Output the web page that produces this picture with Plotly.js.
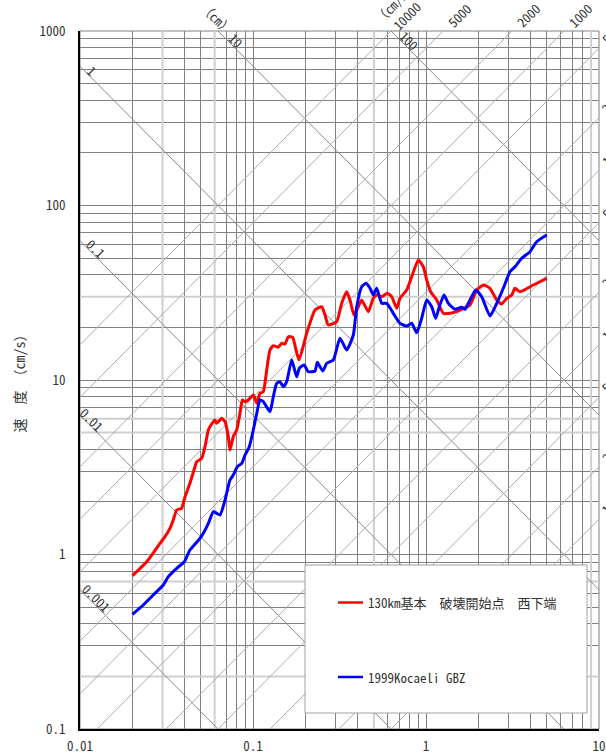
<!DOCTYPE html>
<html><head><meta charset="utf-8">
<script src="https://cdn.plot.ly/plotly-3.0.1.min.js"></script>
<style>html,body{margin:0;padding:0;background:#fff}#chart{width:606px;height:755px}</style>
</head><body><div id="chart"></div>
<script>
// ---- data (period s, pseudo velocity cm/s) ----
const redName = '130km基本　破壊開始点　西下端';
const redPeriod = [0.0201,0.0243,0.0290,0.0310,0.0331,0.0346,0.0362,0.0387,0.0395,0.0405,
 0.0432,0.0462,0.0473,0.0505,0.0528,0.0552,0.0577,0.0603,0.0617,0.0659,
 0.0689,0.0720,0.0736,0.0769,0.0805,0.0841,0.0868,0.0899,0.0940,0.1004,
 0.1051,0.1098,0.1147,0.1200,0.1254,0.1310,0.1400,0.1465,0.1531,0.1600,
 0.1696,0.1773,0.1845,0.2044,0.2283,0.2496,0.2608,0.2725,0.3046,0.3256,
 0.3480,0.3637,0.3836,0.4062,0.4250,0.4640,0.4958,0.5188,0.5546,0.5975,
 0.6335,0.6771,0.7075,0.7734,0.8266,0.9027,0.9648,1.0093,1.0646,1.153,
 1.259,1.376,1.572,1.796,1.964,2.144,2.344,2.563,2.739,2.928,
 3.129,3.270,3.495,4.171,4.986];
const redVelocity = [0.756,0.909,1.159,1.265,1.413,1.577,1.799,1.839,1.965,2.144,
 2.559,3.186,3.402,3.558,4.147,5.170,5.596,5.899,5.646,6.032,
 5.768,4.733,3.971,4.733,5.170,6.446,7.683,7.512,7.683,8.204,
 7.354,8.391,8.570,11.41,14.86,15.73,15.40,16.23,16.08,17.71,
 17.57,14.86,13.02,18.52,25.18,26.30,23.58,20.66,21.58,27.51,
 32.06,28.74,23.58,26.30,28.74,24.63,29.39,30.70,30.02,31.39,
 30.02,25.76,29.39,32.80,39.08,48.73,44.6,37.42,32.06,28.74,
 24.11,24.11,25.18,26.90,32.80,35.03,33.54,28.74,27.26,29.39,
 30.70,33.54,32.06,35.03,38.26];
const blueName = '1999Kocaeli GBZ';
const bluePeriod = [0.0201,0.0232,0.0265,0.0303,0.0324,0.0362,0.0401,0.0432,0.0494,0.0516,
 0.0552,0.0590,0.0617,0.0645,0.0689,0.0736,0.0769,0.0812,0.0861,0.0899,
 0.0952,0.1004,0.1051,0.1098,0.1147,0.1254,0.1310,0.1371,0.1432,0.1497,
 0.1566,0.1674,0.1789,0.1852,0.1971,0.2088,0.2283,0.2354,0.2529,0.2667,
 0.2912,0.3184,0.3480,0.3801,0.3977,0.4250,0.4501,0.4747,0.4958,0.5188,
 0.5546,0.5928,0.6471,0.7075,0.7734,0.8266,0.8835,0.9443,1.0093,1.079,
 1.138,1.194,1.271,1.346,1.471,1.608,1.680,1.796,1.938,2.099,
 2.344,2.563,2.798,3.059,3.270,3.575,3.992,4.364,4.986];
const blueVelocity = [0.454,0.5135,0.5859,0.6685,0.7461,0.8335,0.909,1.061,1.238,1.323,
 1.509,1.759,1.722,1.684,2.052,2.673,2.855,3.186,3.331,3.717,
 4.147,5.170,6.446,7.683,7.512,6.58,8.02,9.574,9.78,9.155,
 9.78,13.02,10.44,11.67,12.19,11.16,11.26,12.63,11.26,12.47,
 13.02,17.34,14.86,18.11,26.30,34.25,35.83,33.54,30.70,33.54,
 27.51,27.51,24.11,21.13,20.39,21.13,18.66,22.57,28.74,26.30,
 22.57,26.30,30.70,27.51,25.42,26.10,25.42,28.74,32.80,30.02,
 23.27,27.51,33.54,41.75,44.6,49.83,54.35,62.02,67.74];

const xTickVals = [0.01,0.1,1,10];
const xTickLabels = ['0.01','0.1','1','10'];
const yTickVals = [0.1,1,10,100,1000];
const yTickLabels = ['0.1','1','10','100','1000'];
const yTitle = '速　度　（cm/s）';
const dispValues = [0.001,0.01,0.1,1,10,100];          // cm
const dispLabels = ['0.001','0.01','0.1','1','10','100'];
const accValues = [1,2,5,10,20,50,100,200,500,1000,2000,5000,10000]; // cm/s2
const accTopLabels = ['10000','5000','2000','1000'];
const accSideLabels = ['500','200','100','50','20','10','5','2','1'];
const dispUnit = '（cm）';
const accUnit = '（cm/s²）';

// ---- layout helpers ----
const W=606,H=755,L=80,R=7,T=31,B=26;
const PW=W-L-R, PH=H-T-B;
const DX=PW/3, DY=PH/4;           // px per decade
const TW=2*Math.PI;
const lg=Math.log10;
const XLO=-2,XHI=1,YLO=-1,YHI=3;
const monoFont="'Noto Sans Mono CJK JP','Noto Sans CJK JP','Liberation Mono',monospace";
const pX=t=>(lg(t)-XLO)/(XHI-XLO), pY=v=>(lg(v)-YLO)/(YHI-YLO);

function gridVals(lo,hi){const v=[];for(let d=lo;d<hi;d++){for(let m=1;m<10;m++)v.push(+(m*Math.pow(10,d)).toPrecision(3));}v.push(Math.pow(10,hi));return v;}
const lightX=[0.03,0.06,0.5,9];
const lightY=[0.2,0.7,5,6,30];
const gx=gridVals(XLO,XHI).filter(v=>!lightX.includes(v));
const gy=gridVals(YLO,YHI).filter(v=>!lightY.includes(v));
function lbl(vals,tv,tl){return vals.map(v=>{const i=tv.indexOf(v);return i>=0?tl[i]:'';});}

const traces=[];
lightX.forEach(v=>traces.push({x:[v,v],y:[0.1,1000],mode:'lines',line:{color:'#cfcfcf',width:2},hoverinfo:'skip',showlegend:false}));
lightY.forEach(v=>traces.push({x:[0.01,10],y:[v,v],mode:'lines',line:{color:'#cfcfcf',width:2},hoverinfo:'skip',showlegend:false}));
const tExt=[0.003,30];
dispValues.forEach(sd=>traces.push({x:tExt,y:tExt.map(t=>TW*sd/t),mode:'lines',line:{color:'#8a8a8a',width:1},hoverinfo:'skip',showlegend:false}));
accValues.forEach(sa=>traces.push({x:tExt,y:tExt.map(t=>sa*t/TW),mode:'lines',line:{color:'#ababab',width:1},hoverinfo:'skip',showlegend:false}));
traces.push({x:redPeriod,y:redVelocity,name:redName,mode:'lines',line:{color:'#ff0000',width:3,shape:'spline',smoothing:0.5},showlegend:false});
traces.push({x:bluePeriod,y:blueVelocity,name:blueName,mode:'lines',line:{color:'#0000ff',width:3,shape:'spline',smoothing:0.5},showlegend:false});

// ---- annotations ----
const ann=[];
const f13={family:monoFont,size:13,color:'#333'};
function addP(t,sv,text,angle,xs,ys){ann.push({x:pX(t),y:pY(sv),xref:'paper',yref:'paper',xanchor:'center',yanchor:'middle',text:text,showarrow:false,textangle:angle,xshift:xs||0,yshift:ys||0,font:f13});}
const leftFoot={'1':8,'0.1':12,'0.01':8,'0.001':12};
dispValues.forEach((sd,i)=>{
  const t=dispLabels[i];
  if(leftFoot[t]!==undefined){
    const T0=0.01*Math.pow(10,leftFoot[t]/DX);
    addP(T0,TW*sd/T0,t,45,4,4);
  }else{
    const sv=1000*Math.pow(10,-14/DY), T0=TW*sd/sv;
    addP(T0,sv,t,45,4,4);
  }
});
{const sd=10, sv=1000*Math.pow(10,7/DY), T0=TW*sd/sv; addP(T0,sv,dispUnit,45,6,6);}
accTopLabels.forEach(s=>{const sa=+s, sv=1000*Math.pow(10,16/DY), T0=TW*sv/sa; addP(T0,sv,s,-45,0,0);});
{const sa=10000, sv=1000*Math.pow(10,16/DY), T0=TW*sv/sa; addP(T0,sv,accUnit,-45,-10,15);}
accSideLabels.forEach(s=>{const sa=+s; const half=s.length*6.5/2*0.707;
  const T0=10*Math.pow(10,(3+half)/DX); addP(T0,sa*T0/TW,s,-45,2,4);});

// legend (drawn box)
const px=x=>(x-L)/PW, py=y=>(H-B-y)/PH;
ann.push({x:px(366),y:py(602.5),xref:'paper',yref:'paper',xanchor:'left',yanchor:'middle',text:redName,showarrow:false,font:f13});
ann.push({x:px(366),y:py(677),xref:'paper',yref:'paper',xanchor:'left',yanchor:'middle',text:blueName,showarrow:false,font:f13});

const shapes=[
 {type:'rect',xref:'paper',yref:'paper',x0:0,x1:1,y0:0,y1:1,line:{color:'#808080',width:1},layer:'below'},
 {type:'rect',xref:'paper',yref:'paper',x0:px(305),x1:px(587),y0:py(713),y1:py(565),fillcolor:'#ffffff',line:{color:'#a0a0a0',width:1},layer:'above'},
 {type:'line',xref:'paper',yref:'paper',x0:px(338),x1:px(363),y0:py(602.5),y1:py(602.5),line:{color:'#ff0000',width:2.5},layer:'above'},
 {type:'line',xref:'paper',yref:'paper',x0:px(338),x1:px(363),y0:py(677),y1:py(677),line:{color:'#0000ff',width:2.5},layer:'above'}
];

const layout={
  width:W,height:H,margin:{l:L,r:R,t:T,b:B,pad:0},
  paper_bgcolor:'#fff',plot_bgcolor:'#fff',showlegend:false,
  xaxis:{type:'log',range:[XLO,XHI],tickmode:'array',tickvals:gx,ticktext:lbl(gx,xTickVals,xTickLabels),
    showgrid:true,gridcolor:'#808080',gridwidth:1,zeroline:false,showline:true,linecolor:'#000',linewidth:2,
    ticks:'',ticklabelstandoff:4,tickfont:f13,fixedrange:true},
  yaxis:{type:'log',range:[YLO,YHI],tickmode:'array',tickvals:gy,ticktext:lbl(gy,yTickVals,yTickLabels),
    showgrid:true,gridcolor:'#808080',gridwidth:1,zeroline:false,showline:true,linecolor:'#000',linewidth:2,
    ticks:'',ticklabelstandoff:10,tickfont:f13,
    title:{text:yTitle,font:{family:monoFont,size:14,color:'#333'},standoff:11},fixedrange:true},
  annotations:ann,shapes:shapes
};
Plotly.newPlot('chart',traces,layout,{staticPlot:true,displayModeBar:false});
</script></body></html>
